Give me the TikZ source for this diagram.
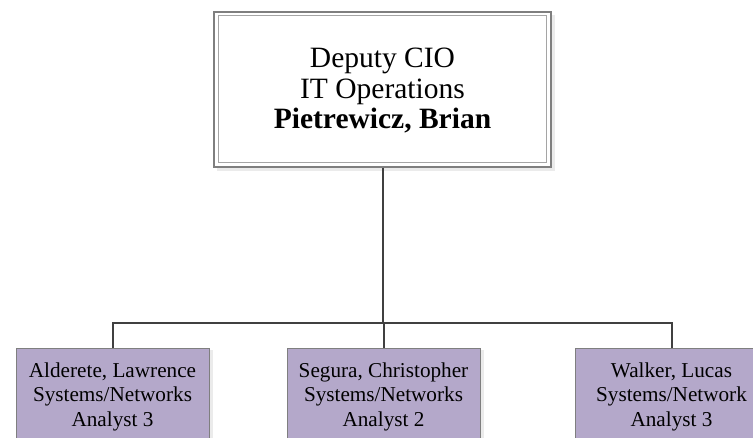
\documentclass[tikz,border=0pt]{standalone}
\usepackage{fontspec}
\setmainfont{Liberation Serif}
\definecolor{boxfill}{HTML}{B4A8CA}
\definecolor{linegray}{HTML}{404040}
\definecolor{framegray}{HTML}{7F7F7F}
\tikzset{
  conn/.style={draw=linegray, line width=2pt},
  staff/.style={draw=framegray, line width=0.8pt, fill=boxfill, minimum width=193pt, minimum height=100pt, anchor=north, inner sep=0pt},
  stafftext/.style={align=center, font=\fontsize{21.2}{24.5}\selectfont, anchor=north, inner sep=0pt},
}
\begin{document}
\begin{tikzpicture}[x=1pt,y=-1pt]
\useasboundingbox (0,0) rectangle (753,438);
% top box shadow and double frame
\fill[black!8] (217,15) rectangle (555,171);
\node[draw=framegray, line width=1.2pt, fill=white, minimum width=337pt, minimum height=155pt, inner sep=0pt] (topo) at (382.5,89.5) {};
\node[draw=framegray!70, line width=1pt, minimum width=328pt, minimum height=147pt, inner sep=0pt] (top) at (382.5,89.5) {};
\node[align=center, font=\fontsize{29.5}{30.5}\selectfont, inner sep=0pt] (toptext) at (382.5,91) {Deputy CIO\\IT Operations\\\textbf{Pietrewicz, Brian}};
% bottom boxes
\fill[black!8] (18,350) rectangle (213,440);
\fill[black!8] (290,350) rectangle (484,440);
\node[staff] (a) at (112.5,348) {};
\node[staff] (b) at (383.5,348) {};
\node[staff] (c) at (671.5,348) {};
\node[stafftext] (at) at (112.5,362.5) {Alderete, Lawrence\\Systems/Networks\\Analyst 3};
\node[stafftext] (bt) at (383.5,362.5) {Segura, Christopher\\Systems/Networks\\Analyst 2};
\node[stafftext] (ct) at (671.5,362.5) {Walker, Lucas\\Systems/Network\\Analyst 3};
% connectors
\coordinate (bus) at (382.5,323);
\draw[conn] (topo.south) -- (bus);
\draw[conn] (a.north) |- (bus) -| (c.north);
\draw[conn] (bus) -- (bus -| b.north) -- (b.north);
\end{tikzpicture}
\end{document}
